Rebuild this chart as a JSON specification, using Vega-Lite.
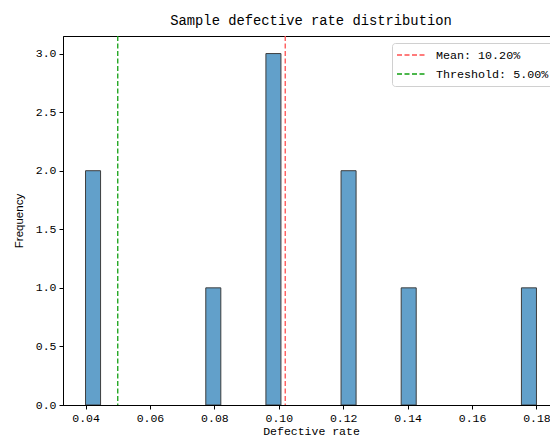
{
  "$schema": "https://vega.github.io/schema/vega-lite/v6.json",
  "autosize": "none",
  "width": 496,
  "height": 369,
  "padding": {"left": 63, "top": 36, "right": 0, "bottom": 37},
  "background": "white",
  "config": {
    "view": {"stroke": "black", "strokeWidth": 1},
    "axis": {
      "grid": false,
      "domainColor": "black",
      "tickColor": "black",
      "tickSize": 4,
      "labelFont": "Liberation Mono",
      "labelFontSize": 11.5,
      "labelColor": "black",
      "titleColor": "black",
      "titleFontWeight": "normal"
    }
  },
  "title": {
    "text": "Sample defective rate distribution",
    "font": "Liberation Mono",
    "fontSize": 13.8,
    "fontWeight": "normal",
    "color": "black",
    "offset": 8
  },
  "layer": [
    {
      "data": {
        "values": [
          {"start": 0.04, "end": 0.0446667, "count": 2},
          {"start": 0.0773333, "end": 0.082, "count": 1},
          {"start": 0.096, "end": 0.1006667, "count": 3},
          {"start": 0.1193333, "end": 0.124, "count": 2},
          {"start": 0.138, "end": 0.1426667, "count": 1},
          {"start": 0.1753333, "end": 0.18, "count": 1}
        ]
      },
      "mark": {"type": "bar", "fill": "#62a0ca", "stroke": "#3d3d3d", "strokeWidth": 1, "clip": true},
      "encoding": {
        "x": {
          "field": "start",
          "type": "quantitative",
          "scale": {"domain": [0.033, 0.187], "nice": false, "zero": false},
          "axis": {
            "values": [0.04, 0.06, 0.08, 0.1, 0.12, 0.14, 0.16, 0.18],
            "format": ".2f",
            "title": "Defective rate",
            "titleFont": "Liberation Mono",
            "titleFontSize": 11.5,
            "titlePadding": 2,
            "labelPadding": 3
          }
        },
        "x2": {"field": "end"},
        "y": {
          "field": "count",
          "type": "quantitative",
          "scale": {"domain": [0, 3.15], "nice": false},
          "axis": {
            "values": [0, 0.5, 1, 1.5, 2, 2.5, 3],
            "format": ".1f",
            "title": "Frequency",
            "titleFont": "Liberation Sans",
            "titleFontSize": 11.5,
            "titlePadding": 11,
            "labelPadding": 3
          }
        },
        "y2": {"datum": 0}
      }
    },
    {
      "data": {
        "values": [
          {"value": 0.102, "label": "Mean: 10.20%"},
          {"value": 0.05, "label": "Threshold: 5.00%"}
        ]
      },
      "mark": {"type": "rule", "strokeDash": [5, 2.5], "strokeWidth": 1.3},
      "encoding": {
        "x": {"field": "value", "type": "quantitative"},
        "color": {
          "field": "label",
          "type": "nominal",
          "scale": {"domain": ["Mean: 10.20%", "Threshold: 5.00%"], "range": ["#ff5050", "#12a012"]},
          "legend": {
            "title": null,
            "orient": "none",
            "legendX": 329,
            "legendY": 7,
            "symbolType": "stroke",
            "symbolSize": 784,
            "symbolStrokeWidth": 1.3,
            "symbolDash": [5, 2.5],
            "labelFont": "Liberation Mono",
            "labelFontSize": 11.7,
            "labelColor": "black",
            "labelOffset": 10,
            "clipHeight": 16,
            "rowPadding": 3,
            "fillColor": "white",
            "strokeColor": "#d0d0d0",
            "cornerRadius": 3,
            "padding": 4
          }
        }
      }
    }
  ]
}
